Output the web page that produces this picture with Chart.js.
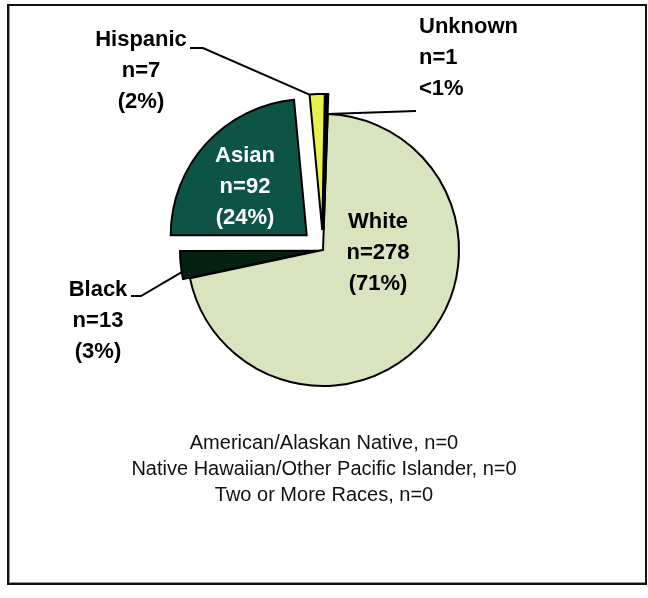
<!DOCTYPE html>
<html>
<head>
<meta charset="utf-8">
<script src="https://cdn.jsdelivr.net/npm/chart.js@4.4.1/dist/chart.umd.min.js"></script>
<style>
  html, body { margin: 0; padding: 0; background: #fff; }
  #wrap { position: relative; width: 648px; height: 598px; }
  #frame {
    position: absolute; left: 7px; top: 4px; width: 636px; height: 577px;
    border: 2px solid #111; box-shadow: inset 1px -1px 0 #999;
  }
  canvas { position: absolute; left: 0; top: 0; }
</style>
</head>
<body>
<div id="wrap">
  <div id="frame"></div>
  <canvas id="c" width="648" height="598"></canvas>
</div>
<script>
// Participants by race/ethnicity
const categories = ['White', 'Black', 'Asian', 'Hispanic', 'Unknown'];
const counts = [278, 13, 92, 7, 1];

// Groups with no participants, listed under the pie
const zeroGroups = ['American/Alaskan Native', 'Native Hawaiian/Other Pacific Islander', 'Two or More Races'];
const zeroCounts = [0, 0, 0];

// Styling
const sliceColors = ['#d7e4bd', '#03220f', '#0d5346', '#e6f24b', '#000000'];
const explode = [0, 7, 22, 20, 20];   // px each slice is pulled out from the centre

const labelFont = 'bold 22px "Liberation Sans", Arial, sans-serif';
const noteFont = '20px "Liberation Sans", Arial, sans-serif';
const lineGap = 31;

// Label blocks: anchor of the first line's baseline
const labelLayout = {
  White:    { x: 378, y: 228, align: 'center', color: '#000' },
  Asian:    { x: 245, y: 162, align: 'center', color: '#fff' },
  Black:    { x: 98,  y: 296, align: 'center', color: '#000' },
  Hispanic: { x: 141, y: 46,  align: 'center', color: '#000' },
  Unknown:  { x: 419, y: 33,  align: 'left',   color: '#000' }
};

// Leader lines: bend points near the label, then the spot on the slice edge
// (frac = position between the slice's start and end angle)
const leaders = {
  Hispanic: { from: [[190, 48], [203, 48]], frac: 0, exploded: true },
  Unknown:  { from: [[416, 111]], frac: 1, exploded: false },
  Black:    { from: [[131, 296], [141, 296]], frac: 0.25, exploded: true }
};

const total = counts.reduce((a, b) => a + b, 0);

function pctText(v) {
  const p = v / total * 100;
  return p < 1 ? '<1%' : '(' + Math.round(p) + '%)';
}

function explodedCenter(arc, i) {
  const mid = (arc.startAngle + arc.endAngle) / 2;
  return { x: arc.x + Math.cos(mid) * explode[i], y: arc.y + Math.sin(mid) * explode[i] };
}

function arcPoint(arc, i, frac, exploded) {
  const a = arc.startAngle + (arc.endAngle - arc.startAngle) * frac;
  const c = exploded ? explodedCenter(arc, i) : { x: arc.x, y: arc.y };
  return [c.x + Math.cos(a) * arc.outerRadius, c.y + Math.sin(a) * arc.outerRadius];
}

// Pull slices outward while they are drawn
const explodePlugin = {
  id: 'explode',
  beforeDatasetsDraw(chart) {
    chart.getDatasetMeta(0).data.forEach((arc, i) => {
      arc.$home = { x: arc.x, y: arc.y };
      const c = explodedCenter(arc, i);
      arc.x = c.x; arc.y = c.y;
    });
  },
  afterDatasetsDraw(chart) {
    chart.getDatasetMeta(0).data.forEach(arc => {
      if (arc.$home) { arc.x = arc.$home.x; arc.y = arc.$home.y; }
    });
  }
};

// Slice labels, leader lines and the note about empty groups
const labelPlugin = {
  id: 'sliceLabels',
  afterDraw(chart) {
    const ctx = chart.ctx;
    const arcs = chart.getDatasetMeta(0).data;
    ctx.save();

    ctx.strokeStyle = '#000';
    ctx.lineWidth = 2;
    ctx.lineJoin = 'miter';
    Object.keys(leaders).forEach(name => {
      const i = categories.indexOf(name);
      const L = leaders[name];
      const end = arcPoint(arcs[i], i, L.frac, L.exploded);
      ctx.beginPath();
      ctx.moveTo(L.from[0][0], L.from[0][1]);
      for (let k = 1; k < L.from.length; k++) ctx.lineTo(L.from[k][0], L.from[k][1]);
      ctx.lineTo(end[0], end[1]);
      ctx.stroke();
    });

    ctx.font = labelFont;
    ctx.textBaseline = 'alphabetic';
    categories.forEach((name, i) => {
      const pos = labelLayout[name];
      const lines = [name, 'n=' + counts[i], pctText(counts[i])];
      ctx.fillStyle = pos.color;
      ctx.textAlign = pos.align;
      lines.forEach((t, k) => ctx.fillText(t, pos.x, pos.y + k * lineGap));
    });

    ctx.font = noteFont;
    ctx.fillStyle = '#111';
    ctx.textAlign = 'center';
    ctx.textBaseline = 'middle';
    zeroGroups.forEach((g, k) => {
      ctx.fillText(g + ', n=' + zeroCounts[k], 324, 443 + k * 26);
    });
    ctx.restore();
  }
};

new Chart(document.getElementById('c'), {
  type: 'pie',
  data: {
    labels: categories,
    datasets: [{
      data: counts,
      backgroundColor: sliceColors,
      borderColor: '#000',
      borderWidth: 2,
      borderJoinStyle: 'miter'
    }]
  },
  options: {
    responsive: false,
    animation: false,
    rotation: 2,
    radius: 136,
    layout: { padding: { left: 100, right: 102, top: 50, bottom: 148 } },
    plugins: {
      legend: { display: false },
      tooltip: { enabled: false }
    }
  },
  plugins: [explodePlugin, labelPlugin]
});
</script>
</body>
</html>
